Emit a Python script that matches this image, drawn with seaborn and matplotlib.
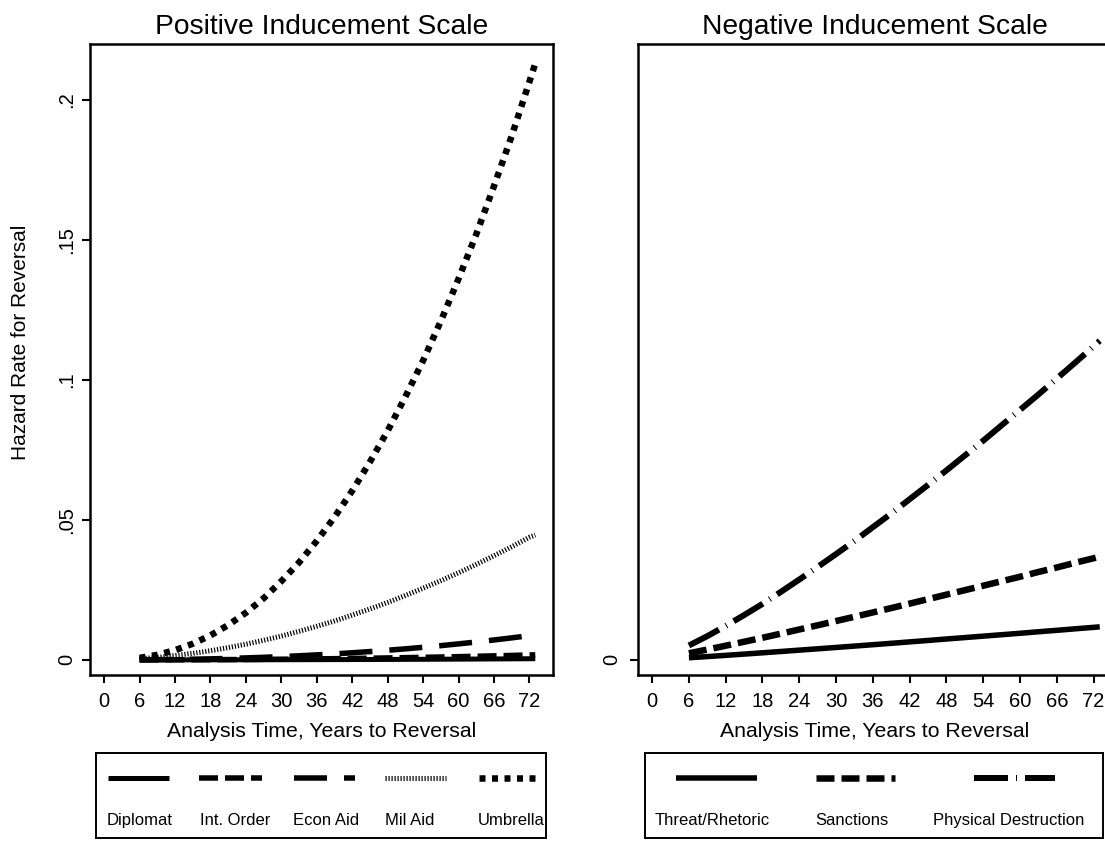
import numpy as np
import pandas as pd
import seaborn as sns
import matplotlib
matplotlib.use("Agg")
import matplotlib.pyplot as plt

# ---- data: hazard rates by analysis time (years) ----
years = [6, 9, 12, 15, 18, 21, 24, 27, 30, 33, 36, 39, 42, 45, 48, 51, 54, 57, 60, 63, 66, 69, 72, 73]

diplomat = [0.000001, 0.000004, 0.000007, 0.000012, 0.000018, 0.000025, 0.000034, 0.000044,
            0.000056, 0.00007, 0.000085, 0.0001, 0.00012, 0.00014, 0.00016, 0.00019, 0.00021,
            0.00024, 0.00027, 0.0003, 0.00034, 0.00037, 0.00041, 0.00043]
int_order = [0.000006, 0.000015, 0.00003, 0.000049, 0.000074, 0.000106, 0.000143, 0.000187,
             0.000239, 0.000296, 0.000361, 0.000434, 0.000513, 0.000601, 0.000695, 0.0008,
             0.00091, 0.00103, 0.00116, 0.00129, 0.00144, 0.00159, 0.00176, 0.0018]
econ_aid = [0.00003, 0.000076, 0.000146, 0.00024, 0.00037, 0.00052, 0.00071, 0.00092, 0.00118,
            0.00146, 0.00179, 0.00214, 0.00254, 0.00297, 0.00344, 0.00395, 0.00449, 0.00508,
            0.00572, 0.00638, 0.00711, 0.00786, 0.00867, 0.0089]
mil_aid = [0.00042, 0.0009, 0.00154, 0.00233, 0.00327, 0.00438, 0.00561, 0.0070, 0.0085, 0.0102,
           0.0120, 0.0139, 0.0160, 0.0182, 0.0205, 0.0230, 0.0256, 0.0283, 0.0311, 0.0341,
           0.0372, 0.0404, 0.0438, 0.0446]
umbrella = [0.00071, 0.0018, 0.00347, 0.00577, 0.00875, 0.01244, 0.01685, 0.0220, 0.0281,
            0.0348, 0.0425, 0.0510, 0.0604, 0.0707, 0.0818, 0.0940, 0.1069, 0.1210, 0.1361,
            0.1520, 0.1692, 0.1871, 0.2065, 0.213]

threat = [0.00076, 0.00118, 0.00162, 0.00207, 0.00253, 0.0030, 0.00348, 0.00396, 0.00444,
          0.00493, 0.00542, 0.00592, 0.00643, 0.00694, 0.00746, 0.00797, 0.00848, 0.00899,
          0.0095, 0.01005, 0.01056, 0.0111, 0.01162, 0.0118]
sanctions = [0.00236, 0.00369, 0.00506, 0.00647, 0.0079, 0.00937, 0.01086, 0.01236, 0.01388,
             0.0154, 0.01695, 0.01851, 0.0201, 0.0217, 0.0233, 0.0249, 0.0265, 0.0281, 0.0297,
             0.0314, 0.0330, 0.0347, 0.0363, 0.0369]
physical = [0.00514, 0.00849, 0.01214, 0.0160, 0.0200, 0.0243, 0.0287, 0.0332, 0.0378, 0.0425,
            0.0474, 0.0523, 0.0574, 0.0625, 0.0677, 0.0730, 0.0783, 0.0838, 0.0893, 0.0948,
            0.1005, 0.1062, 0.1120, 0.1140]

pos_labels = ["Diplomat", "Int. Order", "Econ Aid", "Mil Aid", "Umbrella"]
neg_labels = ["Threat/Rhetoric", "Sanctions", "Physical Destruction"]
x_ticks = [0, 6, 12, 18, 24, 30, 36, 42, 48, 54, 60, 66, 72]
y_ticks = [0, 0.05, 0.1, 0.15, 0.2]
y_ticklabels = ["0", ".05", ".1", ".15", ".2"]

# ---- styling ----
sns.set_theme(style="white")
plt.rcParams["font.family"] = ["Liberation Sans", "DejaVu Sans"]
plt.rcParams["lines.scale_dashes"] = False
for key in ["text.color", "axes.labelcolor", "xtick.color", "ytick.color", "axes.edgecolor"]:
    plt.rcParams[key] = "black"

PX = 0.72  # points per pixel at 100 dpi


def ls(*px):
    return (0, tuple(v * PX for v in px))


pos_styles = [
    dict(lw=5 * PX, linestyle="-"),
    dict(lw=5.5 * PX, linestyle=ls(19, 7)),
    dict(lw=5.5 * PX, linestyle=ls(33, 17)),
    dict(lw=5 * PX, linestyle=ls(1.2, 1.8)),
    dict(lw=6.5 * PX, linestyle=ls(6, 6.5)),
]
neg_styles = [
    dict(lw=5.5 * PX, linestyle="-"),
    dict(lw=6.5 * PX, linestyle=ls(18, 7)),
    dict(lw=6 * PX, linestyle=ls(34, 8, 1.0, 8)),
]

pos_df = pd.DataFrame({"t": years * 5,
                       "h": diplomat + int_order + econ_aid + mil_aid + umbrella,
                       "s": sum([[lab] * len(years) for lab in pos_labels], [])})
neg_df = pd.DataFrame({"t": years * 3,
                       "h": threat + sanctions + physical,
                       "s": sum([[lab] * len(years) for lab in neg_labels], [])})

W, H = 1105, 842
fig = plt.figure(figsize=(W / 100, H / 100), dpi=100)


def fig_rect(x0, y0, x1, y1):
    return [x0 / W, 1 - y1 / H, (x1 - x0) / W, (y1 - y0) / H]


ax1 = fig.add_axes(fig_rect(90, 44, 553, 675))
ax2 = fig.add_axes(fig_rect(638, 44, 1112, 675))

for ax, df, labels, styles in [(ax1, pos_df, pos_labels, pos_styles),
                               (ax2, neg_df, neg_labels, neg_styles)]:
    for lab, st in zip(labels, styles):
        sns.lineplot(data=df[df["s"] == lab], x="t", y="h", ax=ax, color="black",
                     lw=st["lw"], linestyle=st["linestyle"], estimator=None,
                     solid_capstyle="butt", dash_capstyle="butt", legend=False)
    ax.set_xticks(x_ticks)
    ax.set_xticklabels([str(v) for v in x_ticks], fontsize=14.5)
    ax.set_xlabel("Analysis Time, Years to Reversal", fontsize=15.3, labelpad=8)
    ax.set_ylim(-0.0054, 0.22)
    ax.tick_params(axis="both", which="both", direction="out", length=6, width=1.5,
                   color="black", bottom=True, left=True)
    ax.tick_params(axis="x", pad=6)
    for sp in ax.spines.values():
        sp.set_color("black")
        sp.set_linewidth(1.8)
    ax.grid(False)

ax1.set_xlim(-2.4, 76)
ax2.set_xlim(-2.3, 75)

ax1.set_yticks(y_ticks)
ax1.set_yticklabels(y_ticklabels, fontsize=14.5, rotation=90, va="center")
ax1.tick_params(axis="y", pad=4)
ax1.set_ylabel("Hazard Rate for Reversal", fontsize=15)
ax1.yaxis.set_label_coords(-0.130, 0.528)

ax2.set_yticks([0])
ax2.set_yticklabels(["0"], fontsize=14.5, rotation=90, va="center")
ax2.tick_params(axis="y", pad=6)
ax2.set_ylabel("")
ax2.spines["right"].set_visible(False)

ax1.set_title("Positive Inducement Scale", fontsize=20.3, pad=7)
ax2.set_title("Negative Inducement Scale", fontsize=20.3, pad=7)

# ---- legend boxes below each panel ----
lg1 = fig.add_axes(fig_rect(96, 753, 546, 838))
lg2 = fig.add_axes(fig_rect(645, 753, 1103, 838))

key_pos1 = [(0.027, 0.162), (0.229, 0.369), (0.440, 0.576), (0.642, 0.778), (0.851, 0.976)]
lab_pos1 = [0.098, 0.309, 0.511, 0.698, 0.922]
key_pos2 = [(0.068, 0.245), (0.373, 0.546), (0.718, 0.895)]
lab_pos2 = [0.146, 0.452, 0.795]

for lg, labels, styles, kp, lp in [(lg1, pos_labels, pos_styles, key_pos1, lab_pos1),
                                   (lg2, neg_labels, neg_styles, key_pos2, lab_pos2)]:
    lg.set_xlim(0, 1)
    lg.set_ylim(0, 1)
    lg.set_xticks([])
    lg.set_yticks([])
    for sp in lg.spines.values():
        sp.set_color("black")
        sp.set_linewidth(1.4)
    for lab, st, (k0, k1), lx in zip(labels, styles, kp, lp):
        lg.plot([k0, k1], [0.706, 0.706], color="black", lw=st["lw"],
                linestyle=st["linestyle"], solid_capstyle="butt", dash_capstyle="butt")
        lg.text(lx, 0.21, lab, ha="center", va="center", fontsize=12)

fig.savefig("out.png", dpi=100)
